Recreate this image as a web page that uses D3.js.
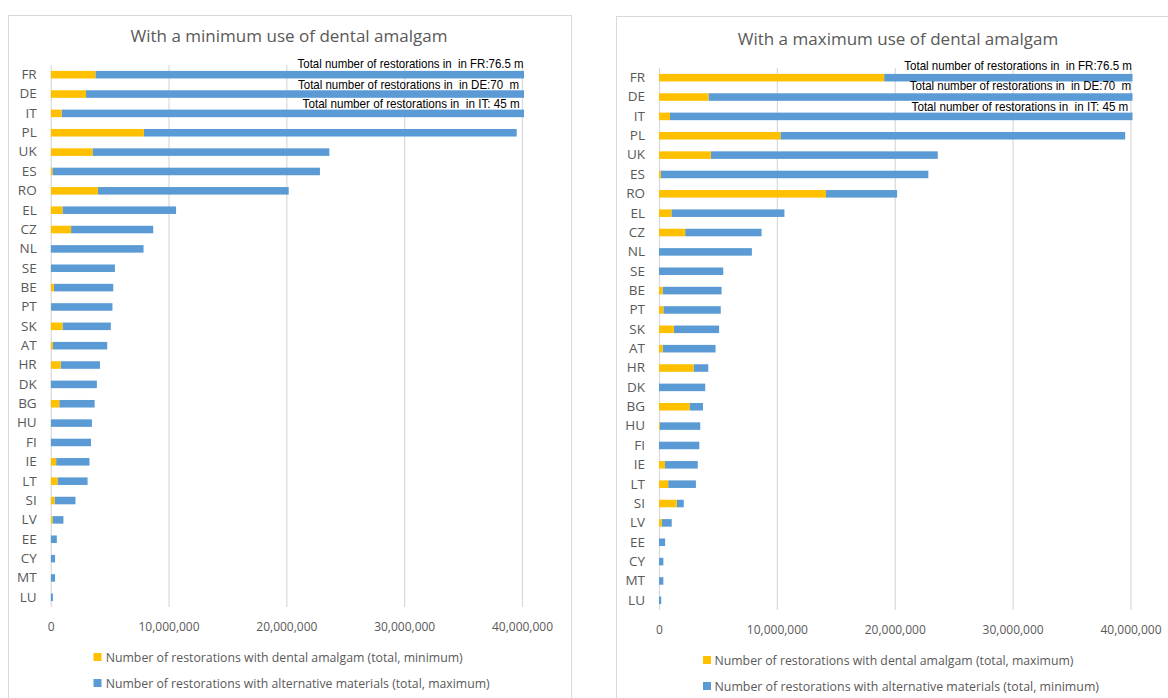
<!DOCTYPE html>
<html>
<head>
<meta charset="utf-8">
<script src="https://cdn.jsdelivr.net/npm/d3@7"></script>
<style>
  html, body { margin: 0; padding: 0; background: #fff; }
  svg { display: block; font-family: "Open Sans", "DejaVu Sans", sans-serif; }
  .note { white-space: pre; }
</style>
</head>
<body>
<svg id="chart" width="1168" height="698"></svg>
<script>
// Member states, largest total number of restorations first
const countries = ["FR","DE","IT","PL","UK","ES","RO","EL","CZ","NL","SE","BE","PT","SK","AT","HR","DK","BG","HU","FI","IE","LT","SI","LV","EE","CY","MT","LU"];

// Scenario 1: minimum use of dental amalgam
const amalgamMin = [3790000,3000000,930000,7910000,3550000,150000,4000000,1000000,1730000,0,0,270000,30000,1000000,180000,850000,0,730000,20000,0,460000,580000,330000,150000,0,0,0,0];
const alternativeMax = [72710000,67000000,44070000,31640000,20100000,22700000,16200000,9640000,6970000,7880000,5450000,5040000,5210000,4100000,4620000,3330000,3920000,3000000,3480000,3420000,2830000,2550000,1770000,930000,520000,370000,370000,190000];

// Scenario 2: maximum use of dental amalgam
const amalgamMax = [19100000,4200000,930000,10300000,4400000,150000,14170000,1050000,2220000,0,0,310000,370000,1260000,310000,2930000,0,2590000,70000,0,500000,780000,1500000,230000,0,0,0,0];
const alternativeMin = [57400000,65800000,44070000,29250000,19250000,22700000,6030000,9590000,6480000,7880000,5450000,5000000,4870000,3840000,4490000,1250000,3920000,1140000,3430000,3420000,2790000,2350000,600000,850000,520000,370000,370000,190000];

// Totals for the three countries that run past the axis
const totalLabels = [
  "Total number of restorations in  in FR:76.5 m",
  "Total number of restorations in  in DE:70  m",
  "Total number of restorations in  in IT: 45 m"
];

const xTicks = [0, 10000000, 20000000, 30000000, 40000000];
const xMax = 40000000;

const panels = [
  {
    title: "With a minimum use of dental amalgam",
    amalgam: amalgamMin,
    alternative: alternativeMax,
    legend: [
      "Number of restorations with dental amalgam (total, minimum)",
      "Number of restorations with alternative materials (total, maximum)"
    ],
    box: { x: 8.5, y: 15.5, w: 563, h: 700 },
    x0: 50.7, x1: 522, top: 65, bottom: 607,
    titleX: 289, titleY: 36, titleLen: 317,
    tickY: 626,
    legendSqX: 93.5, legendTextX: 105.7, legendY: [657, 683], legendLen: [357, 384],
    noteDx: [1.6, -3, -2.4], noteLen: [226, 221, 217], noteDy: [-11.4, -9.7, -9.7]
  },
  {
    title: "With a maximum use of dental amalgam",
    amalgam: amalgamMax,
    alternative: alternativeMin,
    legend: [
      "Number of restorations with dental amalgam (total, maximum)",
      "Number of restorations with alternative materials (total, minimum)"
    ],
    box: { x: 616.5, y: 16.5, w: 600, h: 700 },
    x0: 659, x1: 1130.5, top: 68, bottom: 610,
    titleX: 898, titleY: 39.3, titleLen: 320.6,
    tickY: 629,
    legendSqX: 703, legendTextX: 714.5, legendY: [660, 686], legendLen: [359, 384.5],
    noteDx: [1.4, 0.7, -2.2], noteLen: [227.6, 221.4, 216.7], noteDy: [-11.7, -11.3, -10]
  }
];

const YELLOW = "#FFC000";
const BLUE = "#5B9BD5";
const GRID = "#d9d9d9";
const TEXT = "#595959";

const svg = d3.select("#chart");

panels.forEach((p, pi) => {
  const g = svg.append("g");

  // panel frame
  g.append("rect")
    .attr("x", p.box.x).attr("y", p.box.y)
    .attr("width", p.box.w).attr("height", p.box.h)
    .attr("fill", "#fff").attr("stroke", GRID).attr("stroke-width", 1);

  const x = d3.scaleLinear().domain([0, xMax]).range([p.x0, p.x1]);
  const y = d3.scaleBand().domain(countries).range([p.top, p.bottom])
    .paddingInner(0.61).paddingOuter(0.305);

  // title
  g.append("text")
    .attr("x", p.titleX)
    .attr("y", p.titleY)
    .attr("text-anchor", "middle")
    .attr("dominant-baseline", "central")
    .attr("fill", TEXT)
    .attr("font-size", 15.5)
    .attr("textLength", p.titleLen)
    .attr("lengthAdjust", "spacingAndGlyphs")
    .text(p.title);

  // vertical gridlines
  const grid = g.append("g")
    .attr("transform", `translate(0,${p.bottom})`)
    .call(d3.axisBottom(x).tickValues(xTicks).tickSize(-(p.bottom - p.top)).tickFormat(""));
  grid.select(".domain").remove();
  grid.selectAll(".tick line").attr("stroke", GRID).attr("stroke-width", 1.2);

  // value axis labels
  const xAxis = g.append("g")
    .attr("transform", `translate(0,${p.tickY})`)
    .call(d3.axisBottom(x).tickValues(xTicks).tickSize(0).tickPadding(0).tickFormat(d3.format(",")));
  xAxis.select(".domain").remove();
  xAxis.selectAll("text")
    .attr("fill", TEXT)
    .attr("font-size", 12)
    .attr("font-family", "\"Open Sans\", sans-serif")
    .attr("dy", null)
    .attr("dominant-baseline", "central");

  // category labels
  const yAxis = g.append("g")
    .attr("transform", `translate(${p.x0},0)`)
    .call(d3.axisLeft(y).tickSize(0).tickPadding(14));
  yAxis.select(".domain").remove();
  yAxis.selectAll("text")
    .attr("fill", TEXT)
    .attr("font-size", 13.5)
    .attr("font-family", "\"Open Sans\", sans-serif");

  // bars, clipped at the end of the value axis
  const clipId = "plot-clip-" + pi;
  g.append("clipPath").attr("id", clipId)
    .append("rect")
    .attr("x", p.x0).attr("y", p.top)
    .attr("width", p.x1 - p.x0 + 2).attr("height", p.bottom - p.top);

  const rows = countries.map((c, i) => ({ c, a: p.amalgam[i], b: p.alternative[i] }));
  const bars = g.append("g").attr("clip-path", `url(#${clipId})`);

  bars.selectAll("rect.alt").data(rows).join("rect")
    .attr("class", "alt")
    .attr("x", d => x(d.a))
    .attr("y", d => y(d.c))
    .attr("width", d => x(d.a + d.b) - x(d.a))
    .attr("height", y.bandwidth())
    .attr("fill", BLUE);

  bars.selectAll("rect.amg").data(rows.filter(d => d.a > 0)).join("rect")
    .attr("class", "amg")
    .attr("x", x(0))
    .attr("y", d => y(d.c))
    .attr("width", d => x(d.a) - x(0))
    .attr("height", y.bandwidth())
    .attr("fill", YELLOW);

  // totals noted above the truncated bars
  totalLabels.forEach((t, i) => {
    g.append("text")
      .attr("class", "note")
      .attr("xml:space", "preserve")
      .attr("x", x(xMax) + p.noteDx[i])
      .attr("y", y(countries[i]) + y.bandwidth() / 2 + p.noteDy[i])
      .attr("text-anchor", "end")
      .attr("dominant-baseline", "central")
      .attr("fill", "#000")
      .attr("font-size", 13)
      .attr("font-family", "\"Liberation Sans\", sans-serif")
      .attr("textLength", p.noteLen[i])
      .attr("lengthAdjust", "spacingAndGlyphs")
      .text(t);
  });

  // legend
  const legendColors = [YELLOW, BLUE];
  p.legend.forEach((label, i) => {
    g.append("rect")
      .attr("x", p.legendSqX).attr("y", p.legendY[i] - 4)
      .attr("width", 8).attr("height", 8)
      .attr("fill", legendColors[i]);
    g.append("text")
      .attr("x", p.legendTextX).attr("y", p.legendY[i])
      .attr("dominant-baseline", "central")
      .attr("fill", TEXT)
      .attr("font-size", 12)
      .attr("textLength", p.legendLen[i])
      .attr("lengthAdjust", "spacingAndGlyphs")
      .text(label);
  });
});
</script>
</body>
</html>
